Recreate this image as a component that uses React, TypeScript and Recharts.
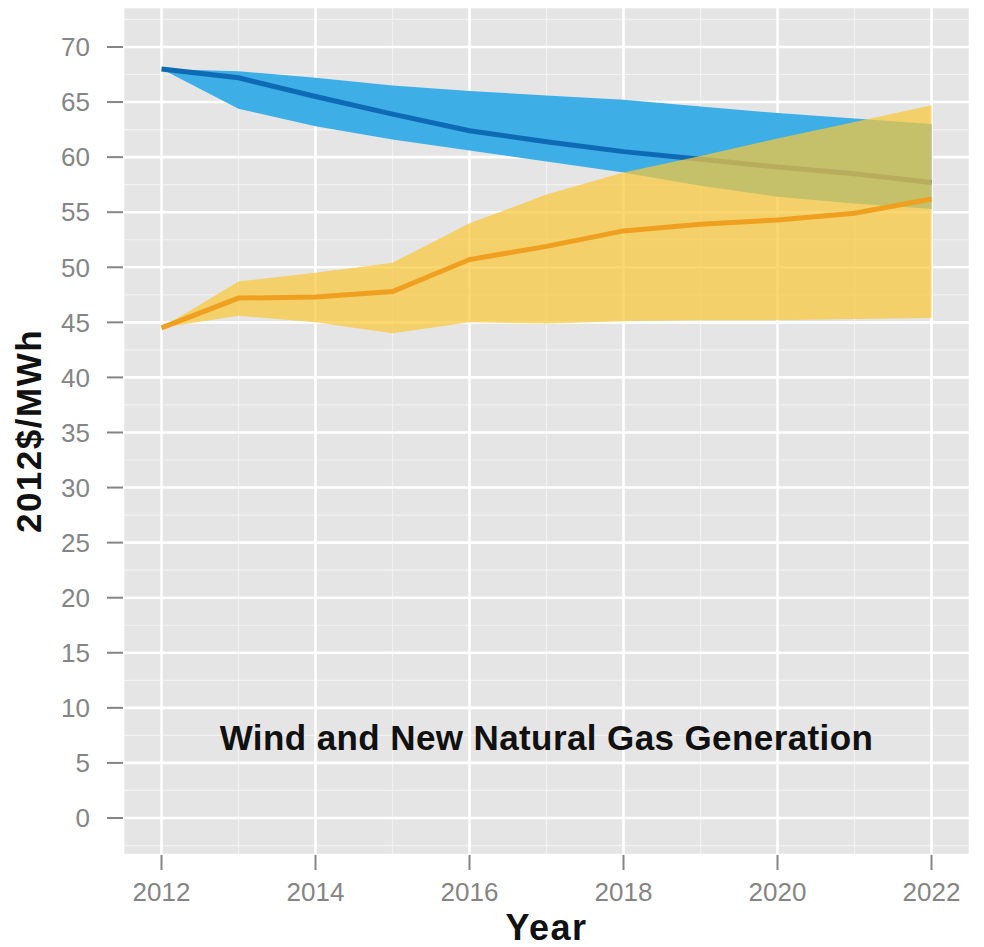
import { ComposedChart, Area, Line, XAxis, YAxis, CartesianGrid, ReferenceDot } from 'recharts'

const years = [2012, 2013, 2014, 2015, 2016, 2017, 2018, 2019, 2020, 2021, 2022]
const windMid = [68.0, 67.2, 65.5, 63.9, 62.4, 61.4, 60.5, 59.8, 59.1, 58.5, 57.7]
const windHigh = [68.0, 67.8, 67.2, 66.5, 66.0, 65.6, 65.2, 64.6, 64.0, 63.5, 63.0]
const windLow = [68.0, 64.4, 62.8, 61.6, 60.6, 59.6, 58.6, 57.4, 56.4, 55.8, 55.3]
const gasMid = [44.5, 47.2, 47.3, 47.8, 50.7, 51.9, 53.3, 53.9, 54.3, 54.9, 56.2]
const gasHigh = [44.5, 48.7, 49.5, 50.4, 54.0, 56.6, 58.6, 60.1, 61.7, 63.2, 64.7]
const gasLow = [44.5, 45.6, 45.0, 44.0, 45.0, 44.9, 45.1, 45.2, 45.2, 45.3, 45.4]

const xTicks = [2012, 2014, 2016, 2018, 2020, 2022]
const xMinor = [2013, 2015, 2017, 2019, 2021]
const yTicks = [0, 5, 10, 15, 20, 25, 30, 35, 40, 45, 50, 55, 60, 65, 70]
const yMinor = [-2.5, 2.5, 7.5, 12.5, 17.5, 22.5, 27.5, 32.5, 37.5, 42.5, 47.5, 52.5, 57.5, 62.5, 67.5, 72.5]

const title = 'Wind and New Natural Gas Generation'
const titleAt = { year: 2017, value: 6.2 }

const data = years.map((year, i) => ({
  year,
  wind: windMid[i],
  windBand: [windLow[i], windHigh[i]],
  gas: gasMid[i],
  gasBand: [gasLow[i], gasHigh[i]],
}))

const font = 'Liberation Sans, Arial, sans-serif'
const tickStyle = { fontSize: 26, fill: '#858585', fontFamily: font }
const tickLine = { stroke: '#858585', strokeWidth: 2 }

function TitleText(props: any) {
  return (
    <text x={props.cx} y={props.cy} textAnchor="middle" fontSize={35} fontWeight="bold" fill="#111"
      fontFamily={font} letterSpacing={0.4}>{title}</text>
  )
}

export default function App() {
  return (
    <div style={{ position: 'absolute', left: 0, top: 0, width: 984, height: 947, background: '#fff' }}>
      <ComposedChart width={984} height={947} data={data} margin={{ top: 7, right: 14, bottom: 0, left: 0 }}>
        <CartesianGrid fill="#E5E5E5" stroke="#F2F2F2" strokeWidth={1.2} horizontalValues={yMinor} verticalValues={xMinor} />
        <CartesianGrid stroke="#FFFFFF" strokeWidth={2.6} />
        <XAxis dataKey="year" type="number" domain={[2011.5, 2022.5]} ticks={xTicks} allowDataOverflow
          axisLine={false} tickLine={tickLine} tickSize={15} tickMargin={13} tick={tickStyle} height={92}
          label={{ value: 'Year', position: 'insideBottom', offset: 7, fontSize: 36, fontWeight: 'bold', fill: '#111', fontFamily: font, letterSpacing: 1.5 }} />
        <YAxis type="number" domain={[-3.36, 73.63]} ticks={yTicks} allowDataOverflow
          axisLine={false} tickLine={tickLine} tickSize={16} tickMargin={17} tick={tickStyle} width={123}
          label={{ value: '2012$/MWh', angle: -90, position: 'insideLeft', offset: 29, fontSize: 35, fontWeight: 'bold', fill: '#111', fontFamily: font, letterSpacing: 1.5, style: { textAnchor: 'middle' } }} />
        {/* wind ribbon + median; the median is an unfilled Area so the gas ribbon covers it */}
        <Area dataKey="windBand" type="linear" fill="#3DAEE6" fillOpacity={1} stroke="none" isAnimationActive={false} />
        <Area dataKey="wind" type="linear" fill="none" fillOpacity={0} stroke="#0E6AB4" strokeWidth={5} dot={false} activeDot={false} isAnimationActive={false} />
        <Area dataKey="gasBand" type="linear" fill="#F9C83A" fillOpacity={0.72} stroke="none" isAnimationActive={false} />
        <Line dataKey="gas" type="linear" stroke="#F0A020" strokeWidth={5} dot={false} isAnimationActive={false} />
        <ReferenceDot x={titleAt.year} y={titleAt.value} r={0} shape={TitleText} />
      </ComposedChart>
    </div>
  )
}
